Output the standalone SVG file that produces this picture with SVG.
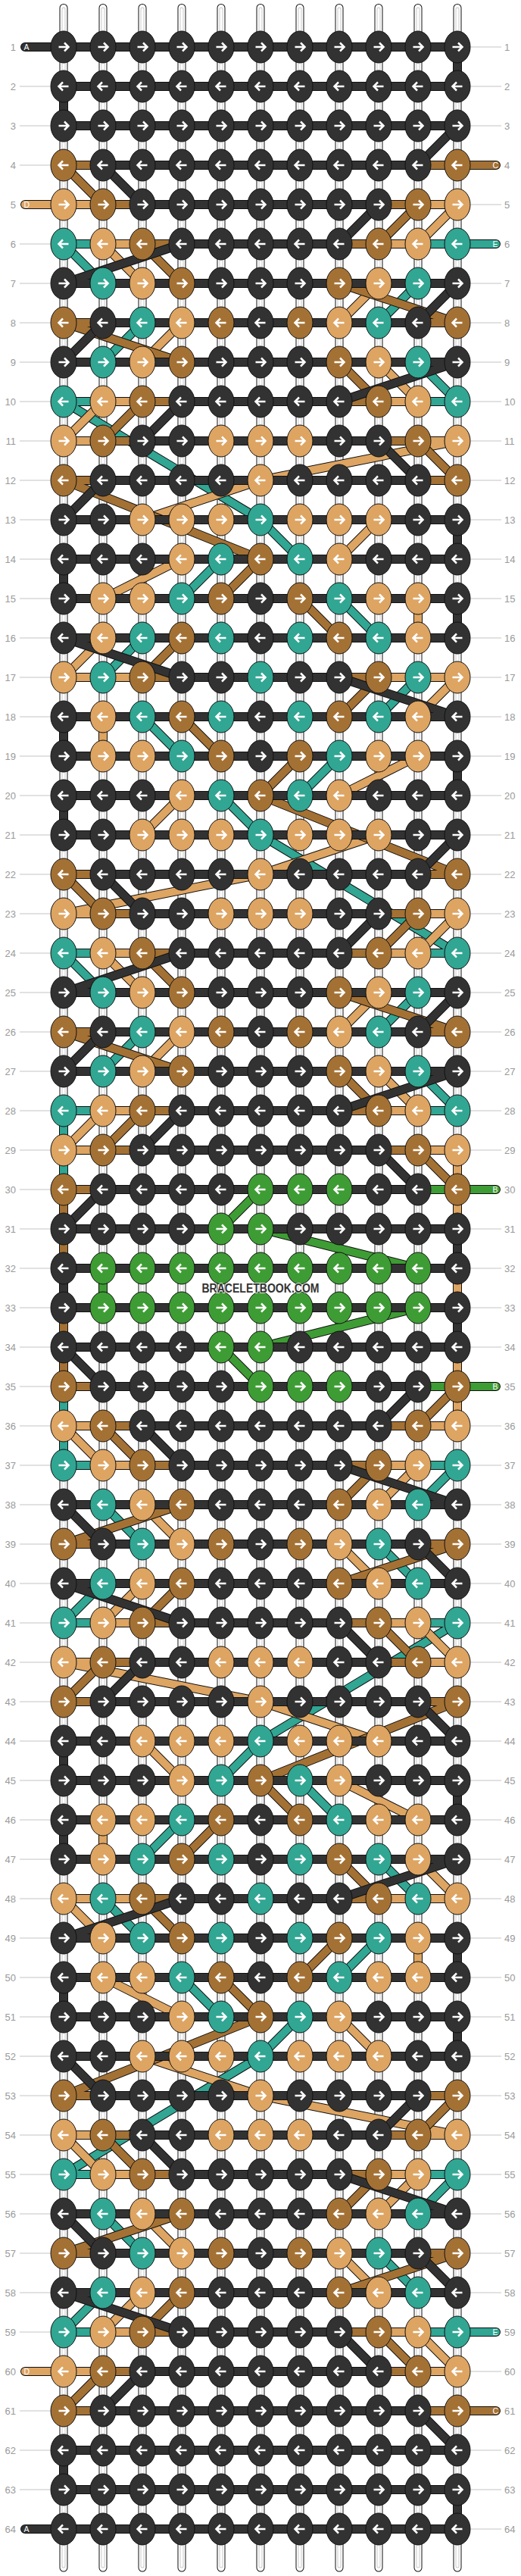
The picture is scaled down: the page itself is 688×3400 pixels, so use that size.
<svg xmlns="http://www.w3.org/2000/svg" xmlns:xlink="http://www.w3.org/1999/xlink" width="688" height="3400" viewBox="0 0 688 3400">
<style>
.k{fill:#323232}.b{fill:#a47134}.t{fill:#dda462}.q{fill:#30a693}.g{fill:#3e9c34}
.o{fill:none;stroke:#111;stroke-width:12;stroke-linecap:round;stroke-linejoin:round}
.sk,.sb,.st,.sq,.sg{fill:none;stroke-width:10;stroke-linecap:round;stroke-linejoin:round}
.sk{stroke:#323232}.sb{stroke:#a47134}.st{stroke:#dda462}.sq{stroke:#30a693}.sg{stroke:#3e9c34}
.n{font-family:"Liberation Sans",Arial,sans-serif;font-size:13px;fill:#9a9a9a}
.e{text-anchor:end}
.s{font-family:"Liberation Sans",Arial,sans-serif;font-size:10.5px;fill:#fff}
.gl{fill:none;stroke:#c4c4c4;stroke-width:1}
.w1{fill:none;stroke:#111;stroke-width:11;stroke-linecap:round}
.w2{fill:none;stroke:#fff;stroke-width:9;stroke-linecap:round}
.w3{fill:none;stroke:#c8c8c8;stroke-width:5;stroke-linecap:round}
.w4{fill:none;stroke:#fff;stroke-width:3;stroke-linecap:round}
.wm{font-family:"Liberation Sans",Arial,sans-serif;font-weight:bold;font-size:16px;fill:#333;stroke:#fff;stroke-width:1.5;paint-order:stroke;text-anchor:middle}
</style>
<defs>
<g id="R"><ellipse rx="17" ry="21" stroke="#111" stroke-width="1"/><path d="M-6.5 0H5.5M1 -5.5L6.5 0L1 5.5" fill="none" stroke="#fff" stroke-width="2.5"/></g>
<g id="L"><ellipse rx="17" ry="21" stroke="#111" stroke-width="1"/><path d="M6.5 0H-5.5M-1 -5.5L-6.5 0L-1 5.5" fill="none" stroke="#fff" stroke-width="2.5"/></g>
</defs>
<g id="warp">
<path class="w1" d="M84 10.5V3389M136 10.5V3389M188 10.5V3389M240 10.5V3389M292 10.5V3389M344 10.5V3389M396 10.5V3389M448 10.5V3389M500 10.5V3389M552 10.5V3389M604 10.5V3389"/>
<path class="w2" d="M84 10.5V3389M136 10.5V3389M188 10.5V3389M240 10.5V3389M292 10.5V3389M344 10.5V3389M396 10.5V3389M448 10.5V3389M500 10.5V3389M552 10.5V3389M604 10.5V3389"/>
<path class="w3" d="M84 12V3387M136 12V3387M188 12V3387M240 12V3387M292 12V3387M344 12V3387M396 12V3387M448 12V3387M500 12V3387M552 12V3387M604 12V3387"/>
<path class="w4" d="M84 12V3387M136 12V3387M188 12V3387M240 12V3387M292 12V3387M344 12V3387M396 12V3387M448 12V3387M500 12V3387M552 12V3387M604 12V3387"/>
</g>
<g id="labels">
<path class="gl" d="M26 114H66M26 166H66M26 218H66M26 322H66M26 374H66M26 426H66M26 478H66M26 530H66M26 582H66M26 634H66M26 686H66M26 738H66M26 790H66M26 842H66M26 894H66M26 946H66M26 998H66M26 1050H66M26 1102H66M26 1154H66M26 1206H66M26 1258H66M26 1310H66M26 1362H66M26 1414H66M26 1466H66M26 1518H66M26 1570H66M26 1622H66M26 1674H66M26 1726H66M26 1778H66M26 1830H66M26 1882H66M26 1934H66M26 1986H66M26 2038H66M26 2090H66M26 2142H66M26 2194H66M26 2246H66M26 2298H66M26 2350H66M26 2402H66M26 2454H66M26 2506H66M26 2558H66M26 2610H66M26 2662H66M26 2714H66M26 2766H66M26 2818H66M26 2870H66M26 2922H66M26 2974H66M26 3026H66M26 3078H66M26 3182H66M26 3234H66M26 3286H66"/>
<path class="gl" d="M622 62H662M622 114H662M622 166H662M622 270H662M622 374H662M622 426H662M622 478H662M622 530H662M622 582H662M622 634H662M622 686H662M622 738H662M622 790H662M622 842H662M622 894H662M622 946H662M622 998H662M622 1050H662M622 1102H662M622 1154H662M622 1206H662M622 1258H662M622 1310H662M622 1362H662M622 1414H662M622 1466H662M622 1518H662M622 1622H662M622 1674H662M622 1726H662M622 1778H662M622 1882H662M622 1934H662M622 1986H662M622 2038H662M622 2090H662M622 2142H662M622 2194H662M622 2246H662M622 2298H662M622 2350H662M622 2402H662M622 2454H662M622 2506H662M622 2558H662M622 2610H662M622 2662H662M622 2714H662M622 2766H662M622 2818H662M622 2870H662M622 2922H662M622 2974H662M622 3026H662M622 3130H662M622 3234H662M622 3286H662M622 3338H662"/>
<text class="n e" x="21" y="66.5">1</text><text class="n e" x="21" y="118.5">2</text><text class="n e" x="21" y="170.5">3</text><text class="n e" x="21" y="222.5">4</text><text class="n e" x="21" y="274.5">5</text><text class="n e" x="21" y="326.5">6</text><text class="n e" x="21" y="378.5">7</text><text class="n e" x="21" y="430.5">8</text><text class="n e" x="21" y="482.5">9</text><text class="n e" x="21" y="534.5">10</text><text class="n e" x="21" y="586.5">11</text><text class="n e" x="21" y="638.5">12</text><text class="n e" x="21" y="690.5">13</text><text class="n e" x="21" y="742.5">14</text><text class="n e" x="21" y="794.5">15</text><text class="n e" x="21" y="846.5">16</text><text class="n e" x="21" y="898.5">17</text><text class="n e" x="21" y="950.5">18</text><text class="n e" x="21" y="1002.5">19</text><text class="n e" x="21" y="1054.5">20</text><text class="n e" x="21" y="1106.5">21</text><text class="n e" x="21" y="1158.5">22</text><text class="n e" x="21" y="1210.5">23</text><text class="n e" x="21" y="1262.5">24</text><text class="n e" x="21" y="1314.5">25</text><text class="n e" x="21" y="1366.5">26</text><text class="n e" x="21" y="1418.5">27</text><text class="n e" x="21" y="1470.5">28</text><text class="n e" x="21" y="1522.5">29</text><text class="n e" x="21" y="1574.5">30</text><text class="n e" x="21" y="1626.5">31</text><text class="n e" x="21" y="1678.5">32</text><text class="n e" x="21" y="1730.5">33</text><text class="n e" x="21" y="1782.5">34</text><text class="n e" x="21" y="1834.5">35</text><text class="n e" x="21" y="1886.5">36</text><text class="n e" x="21" y="1938.5">37</text><text class="n e" x="21" y="1990.5">38</text><text class="n e" x="21" y="2042.5">39</text><text class="n e" x="21" y="2094.5">40</text><text class="n e" x="21" y="2146.5">41</text><text class="n e" x="21" y="2198.5">42</text><text class="n e" x="21" y="2250.5">43</text><text class="n e" x="21" y="2302.5">44</text><text class="n e" x="21" y="2354.5">45</text><text class="n e" x="21" y="2406.5">46</text><text class="n e" x="21" y="2458.5">47</text><text class="n e" x="21" y="2510.5">48</text><text class="n e" x="21" y="2562.5">49</text><text class="n e" x="21" y="2614.5">50</text><text class="n e" x="21" y="2666.5">51</text><text class="n e" x="21" y="2718.5">52</text><text class="n e" x="21" y="2770.5">53</text><text class="n e" x="21" y="2822.5">54</text><text class="n e" x="21" y="2874.5">55</text><text class="n e" x="21" y="2926.5">56</text><text class="n e" x="21" y="2978.5">57</text><text class="n e" x="21" y="3030.5">58</text><text class="n e" x="21" y="3082.5">59</text><text class="n e" x="21" y="3134.5">60</text><text class="n e" x="21" y="3186.5">61</text><text class="n e" x="21" y="3238.5">62</text><text class="n e" x="21" y="3290.5">63</text><text class="n e" x="21" y="3342.5">64</text>
<text class="n" x="666" y="66.5">1</text><text class="n" x="666" y="118.5">2</text><text class="n" x="666" y="170.5">3</text><text class="n" x="666" y="222.5">4</text><text class="n" x="666" y="274.5">5</text><text class="n" x="666" y="326.5">6</text><text class="n" x="666" y="378.5">7</text><text class="n" x="666" y="430.5">8</text><text class="n" x="666" y="482.5">9</text><text class="n" x="666" y="534.5">10</text><text class="n" x="666" y="586.5">11</text><text class="n" x="666" y="638.5">12</text><text class="n" x="666" y="690.5">13</text><text class="n" x="666" y="742.5">14</text><text class="n" x="666" y="794.5">15</text><text class="n" x="666" y="846.5">16</text><text class="n" x="666" y="898.5">17</text><text class="n" x="666" y="950.5">18</text><text class="n" x="666" y="1002.5">19</text><text class="n" x="666" y="1054.5">20</text><text class="n" x="666" y="1106.5">21</text><text class="n" x="666" y="1158.5">22</text><text class="n" x="666" y="1210.5">23</text><text class="n" x="666" y="1262.5">24</text><text class="n" x="666" y="1314.5">25</text><text class="n" x="666" y="1366.5">26</text><text class="n" x="666" y="1418.5">27</text><text class="n" x="666" y="1470.5">28</text><text class="n" x="666" y="1522.5">29</text><text class="n" x="666" y="1574.5">30</text><text class="n" x="666" y="1626.5">31</text><text class="n" x="666" y="1678.5">32</text><text class="n" x="666" y="1730.5">33</text><text class="n" x="666" y="1782.5">34</text><text class="n" x="666" y="1834.5">35</text><text class="n" x="666" y="1886.5">36</text><text class="n" x="666" y="1938.5">37</text><text class="n" x="666" y="1990.5">38</text><text class="n" x="666" y="2042.5">39</text><text class="n" x="666" y="2094.5">40</text><text class="n" x="666" y="2146.5">41</text><text class="n" x="666" y="2198.5">42</text><text class="n" x="666" y="2250.5">43</text><text class="n" x="666" y="2302.5">44</text><text class="n" x="666" y="2354.5">45</text><text class="n" x="666" y="2406.5">46</text><text class="n" x="666" y="2458.5">47</text><text class="n" x="666" y="2510.5">48</text><text class="n" x="666" y="2562.5">49</text><text class="n" x="666" y="2614.5">50</text><text class="n" x="666" y="2666.5">51</text><text class="n" x="666" y="2718.5">52</text><text class="n" x="666" y="2770.5">53</text><text class="n" x="666" y="2822.5">54</text><text class="n" x="666" y="2874.5">55</text><text class="n" x="666" y="2926.5">56</text><text class="n" x="666" y="2978.5">57</text><text class="n" x="666" y="3030.5">58</text><text class="n" x="666" y="3082.5">59</text><text class="n" x="666" y="3134.5">60</text><text class="n" x="666" y="3186.5">61</text><text class="n" x="666" y="3238.5">62</text><text class="n" x="666" y="3290.5">63</text><text class="n" x="666" y="3342.5">64</text>
</g>
<g id="connectors">
<path id="strE-o" class="o" d="M655 322H84L136 374H552L500 426H188L136 478H552L604 530H84L344 686L396 738H292L240 790H448L500 842H188L136 894H552L500 946H188L240 998H448L396 1050H292L344 1102L604 1258H84L136 1310H552L500 1362H188L136 1414H552L604 1466H84L84 1934H604L552 1986H136L188 2038H500L552 2090H136L84 2142H604L344 2298L292 2350H396L448 2402H240L188 2454H500L552 2506H136L188 2558H500L448 2610H240L292 2662H396L344 2714L84 2870H604L552 2922H136L188 2974H500L552 3026H136L84 3078H655"/>
<path id="strE" class="sq" d="M655 322H84L136 374H552L500 426H188L136 478H552L604 530H84L344 686L396 738H292L240 790H448L500 842H188L136 894H552L500 946H188L240 998H448L396 1050H292L344 1102L604 1258H84L136 1310H552L500 1362H188L136 1414H552L604 1466H84L84 1934H604L552 1986H136L188 2038H500L552 2090H136L84 2142H604L344 2298L292 2350H396L448 2402H240L188 2454H500L552 2506H136L188 2558H500L448 2610H240L292 2662H396L344 2714L84 2870H604L552 2922H136L188 2974H500L552 3026H136L84 3078H655"/>
<path id="strD-o" class="o" d="M33 270H604L552 322H136L188 374H500L448 426H240L188 478H500L552 530H136L84 582H604L344 634L188 686H500L448 738H240L136 790H552L552 842H136L84 894H604L552 946H136L136 998H552L448 1050H240L188 1102H500L344 1154L84 1206H604L552 1258H136L188 1310H500L448 1362H240L188 1414H500L552 1466H136L84 1518H604L604 1882H84L136 1934H552L500 1986H188L240 2038H448L500 2090H188L136 2142H552L604 2194H84L344 2246L500 2298H188L240 2350H448L552 2402H136L136 2454H552L604 2506H84L136 2558H552L552 2610H136L240 2662H448L500 2714H188L344 2766L604 2818H84L136 2870H552L500 2922H188L240 2974H448L500 3026H188L136 3078H552L604 3130H33"/>
<path id="strD" class="st" d="M33 270H604L552 322H136L188 374H500L448 426H240L188 478H500L552 530H136L84 582H604L344 634L188 686H500L448 738H240L136 790H552L552 842H136L84 894H604L552 946H136L136 998H552L448 1050H240L188 1102H500L344 1154L84 1206H604L552 1258H136L188 1310H500L448 1362H240L188 1414H500L552 1466H136L84 1518H604L604 1882H84L136 1934H552L500 1986H188L240 2038H448L500 2090H188L136 2142H552L604 2194H84L344 2246L500 2298H188L240 2350H448L552 2402H136L136 2454H552L604 2506H84L136 2558H552L552 2610H136L240 2662H448L500 2714H188L344 2766L604 2818H84L136 2870H552L500 2922H188L240 2974H448L500 3026H188L136 3078H552L604 3130H33"/>
<path id="strC-o" class="o" d="M655 218H84L136 270H552L500 322H188L240 374H448L604 426H84L240 478H448L500 530H188L136 582H552L604 634H84L344 738L292 790H396L448 842H240L188 894H500L448 946H240L292 998H396L344 1050L604 1154H84L136 1206H552L500 1258H188L240 1310H448L604 1362H84L240 1414H448L500 1466H188L136 1518H552L604 1570H84L84 1830H604L552 1882H136L188 1934H500L448 1986H240L84 2038H604L448 2090H240L188 2142H500L552 2194H136L84 2246H604L344 2350L396 2402H292L240 2454H448L500 2506H188L240 2558H448L396 2610H292L344 2662L84 2766H604L552 2818H136L188 2870H500L448 2922H240L84 2974H604L448 3026H240L188 3078H500L552 3130H136L84 3182H655"/>
<path id="strC" class="sb" d="M655 218H84L136 270H552L500 322H188L240 374H448L604 426H84L240 478H448L500 530H188L136 582H552L604 634H84L344 738L292 790H396L448 842H240L188 894H500L448 946H240L292 998H396L344 1050L604 1154H84L136 1206H552L500 1258H188L240 1310H448L604 1362H84L240 1414H448L500 1466H188L136 1518H552L604 1570H84L84 1830H604L552 1882H136L188 1934H500L448 1986H240L84 2038H604L448 2090H240L188 2142H500L552 2194H136L84 2246H604L344 2350L396 2402H292L240 2454H448L500 2506H188L240 2558H448L396 2610H292L344 2662L84 2766H604L552 2818H136L188 2870H500L448 2922H240L84 2974H604L448 3026H240L188 3078H500L552 3130H136L84 3182H655"/>
<path id="strB-o" class="o" d="M655 1570H344L292 1622H344L552 1674H136L136 1726H552L344 1778H292L344 1830H655"/>
<path id="strB" class="sg" d="M655 1570H344L292 1622H344L552 1674H136L136 1726H552L344 1778H292L344 1830H655"/>
<path id="strA-o" class="o" d="M33 62H604L604 114H84L84 166H604L552 218H136L188 270H500L448 322H240L84 374H604L552 426H136L84 478H604L448 530H240L188 582H500L552 634H136L84 686H604L604 738H84L84 790H604L604 842H84L240 894H448L604 946H84L84 998H604L604 1050H84L84 1102H604L552 1154H136L188 1206H500L448 1258H240L84 1310H604L552 1362H136L84 1414H604L448 1466H240L188 1518H500L552 1570H136L84 1622H604L604 1674H84L84 1726H604L604 1778H84L136 1830H552L500 1882H188L240 1934H448L604 1986H84L136 2038H552L604 2090H84L240 2142H448L500 2194H188L136 2246H552L604 2298H84L84 2350H604L604 2402H84L84 2454H604L448 2506H240L84 2558H604L604 2610H84L84 2662H604L604 2714H84L136 2766H552L500 2818H188L240 2870H448L604 2922H84L136 2974H552L604 3026H84L240 3078H448L500 3130H188L136 3182H552L604 3234H84L84 3286H604L604 3338H33"/>
<path id="strA" class="sk" d="M33 62H604L604 114H84L84 166H604L552 218H136L188 270H500L448 322H240L84 374H604L552 426H136L84 478H604L448 530H240L188 582H500L552 634H136L84 686H604L604 738H84L84 790H604L604 842H84L240 894H448L604 946H84L84 998H604L604 1050H84L84 1102H604L552 1154H136L188 1206H500L448 1258H240L84 1310H604L552 1362H136L84 1414H604L448 1466H240L188 1518H500L552 1570H136L84 1622H604L604 1674H84L84 1726H604L604 1778H84L136 1830H552L500 1882H188L240 1934H448L604 1986H84L136 2038H552L604 2090H84L240 2142H448L500 2194H188L136 2246H552L604 2298H84L84 2350H604L604 2402H84L84 2454H604L448 2506H240L84 2558H604L604 2610H84L84 2662H604L604 2714H84L136 2766H552L500 2818H188L240 2870H448L604 2922H84L136 2974H552L604 3026H84L240 3078H448L500 3130H188L136 3182H552L604 3234H84L84 3286H604L604 3338H33"/>
<text class="s" x="31.5" y="66">A</text><text class="s" x="31.5" y="3342">A</text>
<text class="s" x="31.5" y="274">D</text><text class="s" x="31.5" y="3134">D</text>
<text class="s" x="650.5" y="222">C</text><text class="s" x="650.5" y="3186">C</text>
<text class="s" x="650.5" y="326">E</text><text class="s" x="650.5" y="3082">E</text>
<text class="s" x="650.5" y="1574">B</text><text class="s" x="650.5" y="1834">B</text>
</g>
<g id="knots">
<g id="row1" transform="translate(0 62)"><g id="k1-1" class="k"><use href="#R" x="84"/></g><g id="k1-2" class="k"><use href="#R" x="136"/></g><g id="k1-3" class="k"><use href="#R" x="188"/></g><g id="k1-4" class="k"><use href="#R" x="240"/></g><g id="k1-5" class="k"><use href="#R" x="292"/></g><g id="k1-6" class="k"><use href="#R" x="344"/></g><g id="k1-7" class="k"><use href="#R" x="396"/></g><g id="k1-8" class="k"><use href="#R" x="448"/></g><g id="k1-9" class="k"><use href="#R" x="500"/></g><g id="k1-10" class="k"><use href="#R" x="552"/></g><g id="k1-11" class="k"><use href="#R" x="604"/></g></g>
<g id="row2" transform="translate(0 114)"><g id="k2-1" class="k"><use href="#L" x="84"/></g><g id="k2-2" class="k"><use href="#L" x="136"/></g><g id="k2-3" class="k"><use href="#L" x="188"/></g><g id="k2-4" class="k"><use href="#L" x="240"/></g><g id="k2-5" class="k"><use href="#L" x="292"/></g><g id="k2-6" class="k"><use href="#L" x="344"/></g><g id="k2-7" class="k"><use href="#L" x="396"/></g><g id="k2-8" class="k"><use href="#L" x="448"/></g><g id="k2-9" class="k"><use href="#L" x="500"/></g><g id="k2-10" class="k"><use href="#L" x="552"/></g><g id="k2-11" class="k"><use href="#L" x="604"/></g></g>
<g id="row3" transform="translate(0 166)"><g id="k3-1" class="k"><use href="#R" x="84"/></g><g id="k3-2" class="k"><use href="#R" x="136"/></g><g id="k3-3" class="k"><use href="#R" x="188"/></g><g id="k3-4" class="k"><use href="#R" x="240"/></g><g id="k3-5" class="k"><use href="#R" x="292"/></g><g id="k3-6" class="k"><use href="#R" x="344"/></g><g id="k3-7" class="k"><use href="#R" x="396"/></g><g id="k3-8" class="k"><use href="#R" x="448"/></g><g id="k3-9" class="k"><use href="#R" x="500"/></g><g id="k3-10" class="k"><use href="#R" x="552"/></g><g id="k3-11" class="k"><use href="#R" x="604"/></g></g>
<g id="row4" transform="translate(0 218)"><g id="k4-1" class="b"><use href="#L" x="84"/></g><g id="k4-2" class="k"><use href="#L" x="136"/></g><g id="k4-3" class="k"><use href="#L" x="188"/></g><g id="k4-4" class="k"><use href="#L" x="240"/></g><g id="k4-5" class="k"><use href="#L" x="292"/></g><g id="k4-6" class="k"><use href="#L" x="344"/></g><g id="k4-7" class="k"><use href="#L" x="396"/></g><g id="k4-8" class="k"><use href="#L" x="448"/></g><g id="k4-9" class="k"><use href="#L" x="500"/></g><g id="k4-10" class="k"><use href="#L" x="552"/></g><g id="k4-11" class="b"><use href="#L" x="604"/></g></g>
<g id="row5" transform="translate(0 270)"><g id="k5-1" class="t"><use href="#R" x="84"/></g><g id="k5-2" class="b"><use href="#R" x="136"/></g><g id="k5-3" class="k"><use href="#R" x="188"/></g><g id="k5-4" class="k"><use href="#R" x="240"/></g><g id="k5-5" class="k"><use href="#R" x="292"/></g><g id="k5-6" class="k"><use href="#R" x="344"/></g><g id="k5-7" class="k"><use href="#R" x="396"/></g><g id="k5-8" class="k"><use href="#R" x="448"/></g><g id="k5-9" class="k"><use href="#R" x="500"/></g><g id="k5-10" class="b"><use href="#R" x="552"/></g><g id="k5-11" class="t"><use href="#R" x="604"/></g></g>
<g id="row6" transform="translate(0 322)"><g id="k6-1" class="q"><use href="#L" x="84"/></g><g id="k6-2" class="t"><use href="#L" x="136"/></g><g id="k6-3" class="b"><use href="#L" x="188"/></g><g id="k6-4" class="k"><use href="#L" x="240"/></g><g id="k6-5" class="k"><use href="#L" x="292"/></g><g id="k6-6" class="k"><use href="#L" x="344"/></g><g id="k6-7" class="k"><use href="#L" x="396"/></g><g id="k6-8" class="k"><use href="#L" x="448"/></g><g id="k6-9" class="b"><use href="#L" x="500"/></g><g id="k6-10" class="t"><use href="#L" x="552"/></g><g id="k6-11" class="q"><use href="#L" x="604"/></g></g>
<g id="row7" transform="translate(0 374)"><g id="k7-1" class="k"><use href="#R" x="84"/></g><g id="k7-2" class="q"><use href="#R" x="136"/></g><g id="k7-3" class="t"><use href="#R" x="188"/></g><g id="k7-4" class="b"><use href="#R" x="240"/></g><g id="k7-5" class="k"><use href="#R" x="292"/></g><g id="k7-6" class="k"><use href="#R" x="344"/></g><g id="k7-7" class="k"><use href="#R" x="396"/></g><g id="k7-8" class="b"><use href="#R" x="448"/></g><g id="k7-9" class="t"><use href="#R" x="500"/></g><g id="k7-10" class="q"><use href="#R" x="552"/></g><g id="k7-11" class="k"><use href="#R" x="604"/></g></g>
<g id="row8" transform="translate(0 426)"><g id="k8-1" class="b"><use href="#L" x="84"/></g><g id="k8-2" class="k"><use href="#L" x="136"/></g><g id="k8-3" class="q"><use href="#L" x="188"/></g><g id="k8-4" class="t"><use href="#L" x="240"/></g><g id="k8-5" class="b"><use href="#L" x="292"/></g><g id="k8-6" class="k"><use href="#L" x="344"/></g><g id="k8-7" class="b"><use href="#L" x="396"/></g><g id="k8-8" class="t"><use href="#L" x="448"/></g><g id="k8-9" class="q"><use href="#L" x="500"/></g><g id="k8-10" class="k"><use href="#L" x="552"/></g><g id="k8-11" class="b"><use href="#L" x="604"/></g></g>
<g id="row9" transform="translate(0 478)"><g id="k9-1" class="k"><use href="#R" x="84"/></g><g id="k9-2" class="q"><use href="#R" x="136"/></g><g id="k9-3" class="t"><use href="#R" x="188"/></g><g id="k9-4" class="b"><use href="#R" x="240"/></g><g id="k9-5" class="k"><use href="#R" x="292"/></g><g id="k9-6" class="k"><use href="#R" x="344"/></g><g id="k9-7" class="k"><use href="#R" x="396"/></g><g id="k9-8" class="b"><use href="#R" x="448"/></g><g id="k9-9" class="t"><use href="#R" x="500"/></g><g id="k9-10" class="q"><use href="#R" x="552"/></g><g id="k9-11" class="k"><use href="#R" x="604"/></g></g>
<g id="row10" transform="translate(0 530)"><g id="k10-1" class="q"><use href="#L" x="84"/></g><g id="k10-2" class="t"><use href="#L" x="136"/></g><g id="k10-3" class="b"><use href="#L" x="188"/></g><g id="k10-4" class="k"><use href="#L" x="240"/></g><g id="k10-5" class="k"><use href="#L" x="292"/></g><g id="k10-6" class="k"><use href="#L" x="344"/></g><g id="k10-7" class="k"><use href="#L" x="396"/></g><g id="k10-8" class="k"><use href="#L" x="448"/></g><g id="k10-9" class="b"><use href="#L" x="500"/></g><g id="k10-10" class="t"><use href="#L" x="552"/></g><g id="k10-11" class="q"><use href="#L" x="604"/></g></g>
<g id="row11" transform="translate(0 582)"><g id="k11-1" class="t"><use href="#R" x="84"/></g><g id="k11-2" class="b"><use href="#R" x="136"/></g><g id="k11-3" class="k"><use href="#R" x="188"/></g><g id="k11-4" class="k"><use href="#R" x="240"/></g><g id="k11-5" class="t"><use href="#R" x="292"/></g><g id="k11-6" class="t"><use href="#R" x="344"/></g><g id="k11-7" class="t"><use href="#R" x="396"/></g><g id="k11-8" class="k"><use href="#R" x="448"/></g><g id="k11-9" class="k"><use href="#R" x="500"/></g><g id="k11-10" class="b"><use href="#R" x="552"/></g><g id="k11-11" class="t"><use href="#R" x="604"/></g></g>
<g id="row12" transform="translate(0 634)"><g id="k12-1" class="b"><use href="#L" x="84"/></g><g id="k12-2" class="k"><use href="#L" x="136"/></g><g id="k12-3" class="k"><use href="#L" x="188"/></g><g id="k12-4" class="k"><use href="#L" x="240"/></g><g id="k12-5" class="k"><use href="#L" x="292"/></g><g id="k12-6" class="t"><use href="#L" x="344"/></g><g id="k12-7" class="k"><use href="#L" x="396"/></g><g id="k12-8" class="k"><use href="#L" x="448"/></g><g id="k12-9" class="k"><use href="#L" x="500"/></g><g id="k12-10" class="k"><use href="#L" x="552"/></g><g id="k12-11" class="b"><use href="#L" x="604"/></g></g>
<g id="row13" transform="translate(0 686)"><g id="k13-1" class="k"><use href="#R" x="84"/></g><g id="k13-2" class="k"><use href="#R" x="136"/></g><g id="k13-3" class="t"><use href="#R" x="188"/></g><g id="k13-4" class="t"><use href="#R" x="240"/></g><g id="k13-5" class="t"><use href="#R" x="292"/></g><g id="k13-6" class="q"><use href="#R" x="344"/></g><g id="k13-7" class="t"><use href="#R" x="396"/></g><g id="k13-8" class="t"><use href="#R" x="448"/></g><g id="k13-9" class="t"><use href="#R" x="500"/></g><g id="k13-10" class="k"><use href="#R" x="552"/></g><g id="k13-11" class="k"><use href="#R" x="604"/></g></g>
<g id="row14" transform="translate(0 738)"><g id="k14-1" class="k"><use href="#L" x="84"/></g><g id="k14-2" class="k"><use href="#L" x="136"/></g><g id="k14-3" class="k"><use href="#L" x="188"/></g><g id="k14-4" class="t"><use href="#L" x="240"/></g><g id="k14-5" class="q"><use href="#L" x="292"/></g><g id="k14-6" class="b"><use href="#L" x="344"/></g><g id="k14-7" class="q"><use href="#L" x="396"/></g><g id="k14-8" class="t"><use href="#L" x="448"/></g><g id="k14-9" class="k"><use href="#L" x="500"/></g><g id="k14-10" class="k"><use href="#L" x="552"/></g><g id="k14-11" class="k"><use href="#L" x="604"/></g></g>
<g id="row15" transform="translate(0 790)"><g id="k15-1" class="k"><use href="#R" x="84"/></g><g id="k15-2" class="t"><use href="#R" x="136"/></g><g id="k15-3" class="t"><use href="#R" x="188"/></g><g id="k15-4" class="q"><use href="#R" x="240"/></g><g id="k15-5" class="b"><use href="#R" x="292"/></g><g id="k15-6" class="k"><use href="#R" x="344"/></g><g id="k15-7" class="b"><use href="#R" x="396"/></g><g id="k15-8" class="q"><use href="#R" x="448"/></g><g id="k15-9" class="t"><use href="#R" x="500"/></g><g id="k15-10" class="t"><use href="#R" x="552"/></g><g id="k15-11" class="k"><use href="#R" x="604"/></g></g>
<g id="row16" transform="translate(0 842)"><g id="k16-1" class="k"><use href="#L" x="84"/></g><g id="k16-2" class="t"><use href="#L" x="136"/></g><g id="k16-3" class="q"><use href="#L" x="188"/></g><g id="k16-4" class="b"><use href="#L" x="240"/></g><g id="k16-5" class="q"><use href="#L" x="292"/></g><g id="k16-6" class="k"><use href="#L" x="344"/></g><g id="k16-7" class="q"><use href="#L" x="396"/></g><g id="k16-8" class="b"><use href="#L" x="448"/></g><g id="k16-9" class="q"><use href="#L" x="500"/></g><g id="k16-10" class="t"><use href="#L" x="552"/></g><g id="k16-11" class="k"><use href="#L" x="604"/></g></g>
<g id="row17" transform="translate(0 894)"><g id="k17-1" class="t"><use href="#R" x="84"/></g><g id="k17-2" class="q"><use href="#R" x="136"/></g><g id="k17-3" class="b"><use href="#R" x="188"/></g><g id="k17-4" class="k"><use href="#R" x="240"/></g><g id="k17-5" class="k"><use href="#R" x="292"/></g><g id="k17-6" class="q"><use href="#R" x="344"/></g><g id="k17-7" class="k"><use href="#R" x="396"/></g><g id="k17-8" class="k"><use href="#R" x="448"/></g><g id="k17-9" class="b"><use href="#R" x="500"/></g><g id="k17-10" class="q"><use href="#R" x="552"/></g><g id="k17-11" class="t"><use href="#R" x="604"/></g></g>
<g id="row18" transform="translate(0 946)"><g id="k18-1" class="k"><use href="#L" x="84"/></g><g id="k18-2" class="t"><use href="#L" x="136"/></g><g id="k18-3" class="q"><use href="#L" x="188"/></g><g id="k18-4" class="b"><use href="#L" x="240"/></g><g id="k18-5" class="q"><use href="#L" x="292"/></g><g id="k18-6" class="k"><use href="#L" x="344"/></g><g id="k18-7" class="q"><use href="#L" x="396"/></g><g id="k18-8" class="b"><use href="#L" x="448"/></g><g id="k18-9" class="q"><use href="#L" x="500"/></g><g id="k18-10" class="t"><use href="#L" x="552"/></g><g id="k18-11" class="k"><use href="#L" x="604"/></g></g>
<g id="row19" transform="translate(0 998)"><g id="k19-1" class="k"><use href="#R" x="84"/></g><g id="k19-2" class="t"><use href="#R" x="136"/></g><g id="k19-3" class="t"><use href="#R" x="188"/></g><g id="k19-4" class="q"><use href="#R" x="240"/></g><g id="k19-5" class="b"><use href="#R" x="292"/></g><g id="k19-6" class="k"><use href="#R" x="344"/></g><g id="k19-7" class="b"><use href="#R" x="396"/></g><g id="k19-8" class="q"><use href="#R" x="448"/></g><g id="k19-9" class="t"><use href="#R" x="500"/></g><g id="k19-10" class="t"><use href="#R" x="552"/></g><g id="k19-11" class="k"><use href="#R" x="604"/></g></g>
<g id="row20" transform="translate(0 1050)"><g id="k20-1" class="k"><use href="#L" x="84"/></g><g id="k20-2" class="k"><use href="#L" x="136"/></g><g id="k20-3" class="k"><use href="#L" x="188"/></g><g id="k20-4" class="t"><use href="#L" x="240"/></g><g id="k20-5" class="q"><use href="#L" x="292"/></g><g id="k20-6" class="b"><use href="#L" x="344"/></g><g id="k20-7" class="q"><use href="#L" x="396"/></g><g id="k20-8" class="t"><use href="#L" x="448"/></g><g id="k20-9" class="k"><use href="#L" x="500"/></g><g id="k20-10" class="k"><use href="#L" x="552"/></g><g id="k20-11" class="k"><use href="#L" x="604"/></g></g>
<g id="row21" transform="translate(0 1102)"><g id="k21-1" class="k"><use href="#R" x="84"/></g><g id="k21-2" class="k"><use href="#R" x="136"/></g><g id="k21-3" class="t"><use href="#R" x="188"/></g><g id="k21-4" class="t"><use href="#R" x="240"/></g><g id="k21-5" class="t"><use href="#R" x="292"/></g><g id="k21-6" class="q"><use href="#R" x="344"/></g><g id="k21-7" class="t"><use href="#R" x="396"/></g><g id="k21-8" class="t"><use href="#R" x="448"/></g><g id="k21-9" class="t"><use href="#R" x="500"/></g><g id="k21-10" class="k"><use href="#R" x="552"/></g><g id="k21-11" class="k"><use href="#R" x="604"/></g></g>
<g id="row22" transform="translate(0 1154)"><g id="k22-1" class="b"><use href="#L" x="84"/></g><g id="k22-2" class="k"><use href="#L" x="136"/></g><g id="k22-3" class="k"><use href="#L" x="188"/></g><g id="k22-4" class="k"><use href="#L" x="240"/></g><g id="k22-5" class="k"><use href="#L" x="292"/></g><g id="k22-6" class="t"><use href="#L" x="344"/></g><g id="k22-7" class="k"><use href="#L" x="396"/></g><g id="k22-8" class="k"><use href="#L" x="448"/></g><g id="k22-9" class="k"><use href="#L" x="500"/></g><g id="k22-10" class="k"><use href="#L" x="552"/></g><g id="k22-11" class="b"><use href="#L" x="604"/></g></g>
<g id="row23" transform="translate(0 1206)"><g id="k23-1" class="t"><use href="#R" x="84"/></g><g id="k23-2" class="b"><use href="#R" x="136"/></g><g id="k23-3" class="k"><use href="#R" x="188"/></g><g id="k23-4" class="k"><use href="#R" x="240"/></g><g id="k23-5" class="t"><use href="#R" x="292"/></g><g id="k23-6" class="t"><use href="#R" x="344"/></g><g id="k23-7" class="t"><use href="#R" x="396"/></g><g id="k23-8" class="k"><use href="#R" x="448"/></g><g id="k23-9" class="k"><use href="#R" x="500"/></g><g id="k23-10" class="b"><use href="#R" x="552"/></g><g id="k23-11" class="t"><use href="#R" x="604"/></g></g>
<g id="row24" transform="translate(0 1258)"><g id="k24-1" class="q"><use href="#L" x="84"/></g><g id="k24-2" class="t"><use href="#L" x="136"/></g><g id="k24-3" class="b"><use href="#L" x="188"/></g><g id="k24-4" class="k"><use href="#L" x="240"/></g><g id="k24-5" class="k"><use href="#L" x="292"/></g><g id="k24-6" class="k"><use href="#L" x="344"/></g><g id="k24-7" class="k"><use href="#L" x="396"/></g><g id="k24-8" class="k"><use href="#L" x="448"/></g><g id="k24-9" class="b"><use href="#L" x="500"/></g><g id="k24-10" class="t"><use href="#L" x="552"/></g><g id="k24-11" class="q"><use href="#L" x="604"/></g></g>
<g id="row25" transform="translate(0 1310)"><g id="k25-1" class="k"><use href="#R" x="84"/></g><g id="k25-2" class="q"><use href="#R" x="136"/></g><g id="k25-3" class="t"><use href="#R" x="188"/></g><g id="k25-4" class="b"><use href="#R" x="240"/></g><g id="k25-5" class="k"><use href="#R" x="292"/></g><g id="k25-6" class="k"><use href="#R" x="344"/></g><g id="k25-7" class="k"><use href="#R" x="396"/></g><g id="k25-8" class="b"><use href="#R" x="448"/></g><g id="k25-9" class="t"><use href="#R" x="500"/></g><g id="k25-10" class="q"><use href="#R" x="552"/></g><g id="k25-11" class="k"><use href="#R" x="604"/></g></g>
<g id="row26" transform="translate(0 1362)"><g id="k26-1" class="b"><use href="#L" x="84"/></g><g id="k26-2" class="k"><use href="#L" x="136"/></g><g id="k26-3" class="q"><use href="#L" x="188"/></g><g id="k26-4" class="t"><use href="#L" x="240"/></g><g id="k26-5" class="b"><use href="#L" x="292"/></g><g id="k26-6" class="k"><use href="#L" x="344"/></g><g id="k26-7" class="b"><use href="#L" x="396"/></g><g id="k26-8" class="t"><use href="#L" x="448"/></g><g id="k26-9" class="q"><use href="#L" x="500"/></g><g id="k26-10" class="k"><use href="#L" x="552"/></g><g id="k26-11" class="b"><use href="#L" x="604"/></g></g>
<g id="row27" transform="translate(0 1414)"><g id="k27-1" class="k"><use href="#R" x="84"/></g><g id="k27-2" class="q"><use href="#R" x="136"/></g><g id="k27-3" class="t"><use href="#R" x="188"/></g><g id="k27-4" class="b"><use href="#R" x="240"/></g><g id="k27-5" class="k"><use href="#R" x="292"/></g><g id="k27-6" class="k"><use href="#R" x="344"/></g><g id="k27-7" class="k"><use href="#R" x="396"/></g><g id="k27-8" class="b"><use href="#R" x="448"/></g><g id="k27-9" class="t"><use href="#R" x="500"/></g><g id="k27-10" class="q"><use href="#R" x="552"/></g><g id="k27-11" class="k"><use href="#R" x="604"/></g></g>
<g id="row28" transform="translate(0 1466)"><g id="k28-1" class="q"><use href="#L" x="84"/></g><g id="k28-2" class="t"><use href="#L" x="136"/></g><g id="k28-3" class="b"><use href="#L" x="188"/></g><g id="k28-4" class="k"><use href="#L" x="240"/></g><g id="k28-5" class="k"><use href="#L" x="292"/></g><g id="k28-6" class="k"><use href="#L" x="344"/></g><g id="k28-7" class="k"><use href="#L" x="396"/></g><g id="k28-8" class="k"><use href="#L" x="448"/></g><g id="k28-9" class="b"><use href="#L" x="500"/></g><g id="k28-10" class="t"><use href="#L" x="552"/></g><g id="k28-11" class="q"><use href="#L" x="604"/></g></g>
<g id="row29" transform="translate(0 1518)"><g id="k29-1" class="t"><use href="#R" x="84"/></g><g id="k29-2" class="b"><use href="#R" x="136"/></g><g id="k29-3" class="k"><use href="#R" x="188"/></g><g id="k29-4" class="k"><use href="#R" x="240"/></g><g id="k29-5" class="k"><use href="#R" x="292"/></g><g id="k29-6" class="k"><use href="#R" x="344"/></g><g id="k29-7" class="k"><use href="#R" x="396"/></g><g id="k29-8" class="k"><use href="#R" x="448"/></g><g id="k29-9" class="k"><use href="#R" x="500"/></g><g id="k29-10" class="b"><use href="#R" x="552"/></g><g id="k29-11" class="t"><use href="#R" x="604"/></g></g>
<g id="row30" transform="translate(0 1570)"><g id="k30-1" class="b"><use href="#L" x="84"/></g><g id="k30-2" class="k"><use href="#L" x="136"/></g><g id="k30-3" class="k"><use href="#L" x="188"/></g><g id="k30-4" class="k"><use href="#L" x="240"/></g><g id="k30-5" class="k"><use href="#L" x="292"/></g><g id="k30-6" class="g"><use href="#L" x="344"/></g><g id="k30-7" class="g"><use href="#L" x="396"/></g><g id="k30-8" class="g"><use href="#L" x="448"/></g><g id="k30-9" class="k"><use href="#L" x="500"/></g><g id="k30-10" class="k"><use href="#L" x="552"/></g><g id="k30-11" class="b"><use href="#L" x="604"/></g></g>
<g id="row31" transform="translate(0 1622)"><g id="k31-1" class="k"><use href="#R" x="84"/></g><g id="k31-2" class="k"><use href="#R" x="136"/></g><g id="k31-3" class="k"><use href="#R" x="188"/></g><g id="k31-4" class="k"><use href="#R" x="240"/></g><g id="k31-5" class="g"><use href="#R" x="292"/></g><g id="k31-6" class="g"><use href="#R" x="344"/></g><g id="k31-7" class="k"><use href="#R" x="396"/></g><g id="k31-8" class="k"><use href="#R" x="448"/></g><g id="k31-9" class="k"><use href="#R" x="500"/></g><g id="k31-10" class="k"><use href="#R" x="552"/></g><g id="k31-11" class="k"><use href="#R" x="604"/></g></g>
<g id="row32" transform="translate(0 1674)"><g id="k32-1" class="k"><use href="#L" x="84"/></g><g id="k32-2" class="g"><use href="#L" x="136"/></g><g id="k32-3" class="g"><use href="#L" x="188"/></g><g id="k32-4" class="g"><use href="#L" x="240"/></g><g id="k32-5" class="g"><use href="#L" x="292"/></g><g id="k32-6" class="g"><use href="#L" x="344"/></g><g id="k32-7" class="g"><use href="#L" x="396"/></g><g id="k32-8" class="g"><use href="#L" x="448"/></g><g id="k32-9" class="g"><use href="#L" x="500"/></g><g id="k32-10" class="g"><use href="#L" x="552"/></g><g id="k32-11" class="k"><use href="#L" x="604"/></g></g>
<g id="row33" transform="translate(0 1726)"><g id="k33-1" class="k"><use href="#R" x="84"/></g><g id="k33-2" class="g"><use href="#R" x="136"/></g><g id="k33-3" class="g"><use href="#R" x="188"/></g><g id="k33-4" class="g"><use href="#R" x="240"/></g><g id="k33-5" class="g"><use href="#R" x="292"/></g><g id="k33-6" class="g"><use href="#R" x="344"/></g><g id="k33-7" class="g"><use href="#R" x="396"/></g><g id="k33-8" class="g"><use href="#R" x="448"/></g><g id="k33-9" class="g"><use href="#R" x="500"/></g><g id="k33-10" class="g"><use href="#R" x="552"/></g><g id="k33-11" class="k"><use href="#R" x="604"/></g></g>
<g id="row34" transform="translate(0 1778)"><g id="k34-1" class="k"><use href="#L" x="84"/></g><g id="k34-2" class="k"><use href="#L" x="136"/></g><g id="k34-3" class="k"><use href="#L" x="188"/></g><g id="k34-4" class="k"><use href="#L" x="240"/></g><g id="k34-5" class="g"><use href="#L" x="292"/></g><g id="k34-6" class="g"><use href="#L" x="344"/></g><g id="k34-7" class="k"><use href="#L" x="396"/></g><g id="k34-8" class="k"><use href="#L" x="448"/></g><g id="k34-9" class="k"><use href="#L" x="500"/></g><g id="k34-10" class="k"><use href="#L" x="552"/></g><g id="k34-11" class="k"><use href="#L" x="604"/></g></g>
<g id="row35" transform="translate(0 1830)"><g id="k35-1" class="b"><use href="#R" x="84"/></g><g id="k35-2" class="k"><use href="#R" x="136"/></g><g id="k35-3" class="k"><use href="#R" x="188"/></g><g id="k35-4" class="k"><use href="#R" x="240"/></g><g id="k35-5" class="k"><use href="#R" x="292"/></g><g id="k35-6" class="g"><use href="#R" x="344"/></g><g id="k35-7" class="g"><use href="#R" x="396"/></g><g id="k35-8" class="g"><use href="#R" x="448"/></g><g id="k35-9" class="k"><use href="#R" x="500"/></g><g id="k35-10" class="k"><use href="#R" x="552"/></g><g id="k35-11" class="b"><use href="#R" x="604"/></g></g>
<g id="row36" transform="translate(0 1882)"><g id="k36-1" class="t"><use href="#L" x="84"/></g><g id="k36-2" class="b"><use href="#L" x="136"/></g><g id="k36-3" class="k"><use href="#L" x="188"/></g><g id="k36-4" class="k"><use href="#L" x="240"/></g><g id="k36-5" class="k"><use href="#L" x="292"/></g><g id="k36-6" class="k"><use href="#L" x="344"/></g><g id="k36-7" class="k"><use href="#L" x="396"/></g><g id="k36-8" class="k"><use href="#L" x="448"/></g><g id="k36-9" class="k"><use href="#L" x="500"/></g><g id="k36-10" class="b"><use href="#L" x="552"/></g><g id="k36-11" class="t"><use href="#L" x="604"/></g></g>
<g id="row37" transform="translate(0 1934)"><g id="k37-1" class="q"><use href="#R" x="84"/></g><g id="k37-2" class="t"><use href="#R" x="136"/></g><g id="k37-3" class="b"><use href="#R" x="188"/></g><g id="k37-4" class="k"><use href="#R" x="240"/></g><g id="k37-5" class="k"><use href="#R" x="292"/></g><g id="k37-6" class="k"><use href="#R" x="344"/></g><g id="k37-7" class="k"><use href="#R" x="396"/></g><g id="k37-8" class="k"><use href="#R" x="448"/></g><g id="k37-9" class="b"><use href="#R" x="500"/></g><g id="k37-10" class="t"><use href="#R" x="552"/></g><g id="k37-11" class="q"><use href="#R" x="604"/></g></g>
<g id="row38" transform="translate(0 1986)"><g id="k38-1" class="k"><use href="#L" x="84"/></g><g id="k38-2" class="q"><use href="#L" x="136"/></g><g id="k38-3" class="t"><use href="#L" x="188"/></g><g id="k38-4" class="b"><use href="#L" x="240"/></g><g id="k38-5" class="k"><use href="#L" x="292"/></g><g id="k38-6" class="k"><use href="#L" x="344"/></g><g id="k38-7" class="k"><use href="#L" x="396"/></g><g id="k38-8" class="b"><use href="#L" x="448"/></g><g id="k38-9" class="t"><use href="#L" x="500"/></g><g id="k38-10" class="q"><use href="#L" x="552"/></g><g id="k38-11" class="k"><use href="#L" x="604"/></g></g>
<g id="row39" transform="translate(0 2038)"><g id="k39-1" class="b"><use href="#R" x="84"/></g><g id="k39-2" class="k"><use href="#R" x="136"/></g><g id="k39-3" class="q"><use href="#R" x="188"/></g><g id="k39-4" class="t"><use href="#R" x="240"/></g><g id="k39-5" class="b"><use href="#R" x="292"/></g><g id="k39-6" class="k"><use href="#R" x="344"/></g><g id="k39-7" class="b"><use href="#R" x="396"/></g><g id="k39-8" class="t"><use href="#R" x="448"/></g><g id="k39-9" class="q"><use href="#R" x="500"/></g><g id="k39-10" class="k"><use href="#R" x="552"/></g><g id="k39-11" class="b"><use href="#R" x="604"/></g></g>
<g id="row40" transform="translate(0 2090)"><g id="k40-1" class="k"><use href="#L" x="84"/></g><g id="k40-2" class="q"><use href="#L" x="136"/></g><g id="k40-3" class="t"><use href="#L" x="188"/></g><g id="k40-4" class="b"><use href="#L" x="240"/></g><g id="k40-5" class="k"><use href="#L" x="292"/></g><g id="k40-6" class="k"><use href="#L" x="344"/></g><g id="k40-7" class="k"><use href="#L" x="396"/></g><g id="k40-8" class="b"><use href="#L" x="448"/></g><g id="k40-9" class="t"><use href="#L" x="500"/></g><g id="k40-10" class="q"><use href="#L" x="552"/></g><g id="k40-11" class="k"><use href="#L" x="604"/></g></g>
<g id="row41" transform="translate(0 2142)"><g id="k41-1" class="q"><use href="#R" x="84"/></g><g id="k41-2" class="t"><use href="#R" x="136"/></g><g id="k41-3" class="b"><use href="#R" x="188"/></g><g id="k41-4" class="k"><use href="#R" x="240"/></g><g id="k41-5" class="k"><use href="#R" x="292"/></g><g id="k41-6" class="k"><use href="#R" x="344"/></g><g id="k41-7" class="k"><use href="#R" x="396"/></g><g id="k41-8" class="k"><use href="#R" x="448"/></g><g id="k41-9" class="b"><use href="#R" x="500"/></g><g id="k41-10" class="t"><use href="#R" x="552"/></g><g id="k41-11" class="q"><use href="#R" x="604"/></g></g>
<g id="row42" transform="translate(0 2194)"><g id="k42-1" class="t"><use href="#L" x="84"/></g><g id="k42-2" class="b"><use href="#L" x="136"/></g><g id="k42-3" class="k"><use href="#L" x="188"/></g><g id="k42-4" class="k"><use href="#L" x="240"/></g><g id="k42-5" class="t"><use href="#L" x="292"/></g><g id="k42-6" class="t"><use href="#L" x="344"/></g><g id="k42-7" class="t"><use href="#L" x="396"/></g><g id="k42-8" class="k"><use href="#L" x="448"/></g><g id="k42-9" class="k"><use href="#L" x="500"/></g><g id="k42-10" class="b"><use href="#L" x="552"/></g><g id="k42-11" class="t"><use href="#L" x="604"/></g></g>
<g id="row43" transform="translate(0 2246)"><g id="k43-1" class="b"><use href="#R" x="84"/></g><g id="k43-2" class="k"><use href="#R" x="136"/></g><g id="k43-3" class="k"><use href="#R" x="188"/></g><g id="k43-4" class="k"><use href="#R" x="240"/></g><g id="k43-5" class="k"><use href="#R" x="292"/></g><g id="k43-6" class="t"><use href="#R" x="344"/></g><g id="k43-7" class="k"><use href="#R" x="396"/></g><g id="k43-8" class="k"><use href="#R" x="448"/></g><g id="k43-9" class="k"><use href="#R" x="500"/></g><g id="k43-10" class="k"><use href="#R" x="552"/></g><g id="k43-11" class="b"><use href="#R" x="604"/></g></g>
<g id="row44" transform="translate(0 2298)"><g id="k44-1" class="k"><use href="#L" x="84"/></g><g id="k44-2" class="k"><use href="#L" x="136"/></g><g id="k44-3" class="t"><use href="#L" x="188"/></g><g id="k44-4" class="t"><use href="#L" x="240"/></g><g id="k44-5" class="t"><use href="#L" x="292"/></g><g id="k44-6" class="q"><use href="#L" x="344"/></g><g id="k44-7" class="t"><use href="#L" x="396"/></g><g id="k44-8" class="t"><use href="#L" x="448"/></g><g id="k44-9" class="t"><use href="#L" x="500"/></g><g id="k44-10" class="k"><use href="#L" x="552"/></g><g id="k44-11" class="k"><use href="#L" x="604"/></g></g>
<g id="row45" transform="translate(0 2350)"><g id="k45-1" class="k"><use href="#R" x="84"/></g><g id="k45-2" class="k"><use href="#R" x="136"/></g><g id="k45-3" class="k"><use href="#R" x="188"/></g><g id="k45-4" class="t"><use href="#R" x="240"/></g><g id="k45-5" class="q"><use href="#R" x="292"/></g><g id="k45-6" class="b"><use href="#R" x="344"/></g><g id="k45-7" class="q"><use href="#R" x="396"/></g><g id="k45-8" class="t"><use href="#R" x="448"/></g><g id="k45-9" class="k"><use href="#R" x="500"/></g><g id="k45-10" class="k"><use href="#R" x="552"/></g><g id="k45-11" class="k"><use href="#R" x="604"/></g></g>
<g id="row46" transform="translate(0 2402)"><g id="k46-1" class="k"><use href="#L" x="84"/></g><g id="k46-2" class="t"><use href="#L" x="136"/></g><g id="k46-3" class="t"><use href="#L" x="188"/></g><g id="k46-4" class="q"><use href="#L" x="240"/></g><g id="k46-5" class="b"><use href="#L" x="292"/></g><g id="k46-6" class="k"><use href="#L" x="344"/></g><g id="k46-7" class="b"><use href="#L" x="396"/></g><g id="k46-8" class="q"><use href="#L" x="448"/></g><g id="k46-9" class="t"><use href="#L" x="500"/></g><g id="k46-10" class="t"><use href="#L" x="552"/></g><g id="k46-11" class="k"><use href="#L" x="604"/></g></g>
<g id="row47" transform="translate(0 2454)"><g id="k47-1" class="k"><use href="#R" x="84"/></g><g id="k47-2" class="t"><use href="#R" x="136"/></g><g id="k47-3" class="q"><use href="#R" x="188"/></g><g id="k47-4" class="b"><use href="#R" x="240"/></g><g id="k47-5" class="q"><use href="#R" x="292"/></g><g id="k47-6" class="k"><use href="#R" x="344"/></g><g id="k47-7" class="q"><use href="#R" x="396"/></g><g id="k47-8" class="b"><use href="#R" x="448"/></g><g id="k47-9" class="q"><use href="#R" x="500"/></g><g id="k47-10" class="t"><use href="#R" x="552"/></g><g id="k47-11" class="k"><use href="#R" x="604"/></g></g>
<g id="row48" transform="translate(0 2506)"><g id="k48-1" class="t"><use href="#L" x="84"/></g><g id="k48-2" class="q"><use href="#L" x="136"/></g><g id="k48-3" class="b"><use href="#L" x="188"/></g><g id="k48-4" class="k"><use href="#L" x="240"/></g><g id="k48-5" class="k"><use href="#L" x="292"/></g><g id="k48-6" class="q"><use href="#L" x="344"/></g><g id="k48-7" class="k"><use href="#L" x="396"/></g><g id="k48-8" class="k"><use href="#L" x="448"/></g><g id="k48-9" class="b"><use href="#L" x="500"/></g><g id="k48-10" class="q"><use href="#L" x="552"/></g><g id="k48-11" class="t"><use href="#L" x="604"/></g></g>
<g id="row49" transform="translate(0 2558)"><g id="k49-1" class="k"><use href="#R" x="84"/></g><g id="k49-2" class="t"><use href="#R" x="136"/></g><g id="k49-3" class="q"><use href="#R" x="188"/></g><g id="k49-4" class="b"><use href="#R" x="240"/></g><g id="k49-5" class="q"><use href="#R" x="292"/></g><g id="k49-6" class="k"><use href="#R" x="344"/></g><g id="k49-7" class="q"><use href="#R" x="396"/></g><g id="k49-8" class="b"><use href="#R" x="448"/></g><g id="k49-9" class="q"><use href="#R" x="500"/></g><g id="k49-10" class="t"><use href="#R" x="552"/></g><g id="k49-11" class="k"><use href="#R" x="604"/></g></g>
<g id="row50" transform="translate(0 2610)"><g id="k50-1" class="k"><use href="#L" x="84"/></g><g id="k50-2" class="t"><use href="#L" x="136"/></g><g id="k50-3" class="t"><use href="#L" x="188"/></g><g id="k50-4" class="q"><use href="#L" x="240"/></g><g id="k50-5" class="b"><use href="#L" x="292"/></g><g id="k50-6" class="k"><use href="#L" x="344"/></g><g id="k50-7" class="b"><use href="#L" x="396"/></g><g id="k50-8" class="q"><use href="#L" x="448"/></g><g id="k50-9" class="t"><use href="#L" x="500"/></g><g id="k50-10" class="t"><use href="#L" x="552"/></g><g id="k50-11" class="k"><use href="#L" x="604"/></g></g>
<g id="row51" transform="translate(0 2662)"><g id="k51-1" class="k"><use href="#R" x="84"/></g><g id="k51-2" class="k"><use href="#R" x="136"/></g><g id="k51-3" class="k"><use href="#R" x="188"/></g><g id="k51-4" class="t"><use href="#R" x="240"/></g><g id="k51-5" class="q"><use href="#R" x="292"/></g><g id="k51-6" class="b"><use href="#R" x="344"/></g><g id="k51-7" class="q"><use href="#R" x="396"/></g><g id="k51-8" class="t"><use href="#R" x="448"/></g><g id="k51-9" class="k"><use href="#R" x="500"/></g><g id="k51-10" class="k"><use href="#R" x="552"/></g><g id="k51-11" class="k"><use href="#R" x="604"/></g></g>
<g id="row52" transform="translate(0 2714)"><g id="k52-1" class="k"><use href="#L" x="84"/></g><g id="k52-2" class="k"><use href="#L" x="136"/></g><g id="k52-3" class="t"><use href="#L" x="188"/></g><g id="k52-4" class="t"><use href="#L" x="240"/></g><g id="k52-5" class="t"><use href="#L" x="292"/></g><g id="k52-6" class="q"><use href="#L" x="344"/></g><g id="k52-7" class="t"><use href="#L" x="396"/></g><g id="k52-8" class="t"><use href="#L" x="448"/></g><g id="k52-9" class="t"><use href="#L" x="500"/></g><g id="k52-10" class="k"><use href="#L" x="552"/></g><g id="k52-11" class="k"><use href="#L" x="604"/></g></g>
<g id="row53" transform="translate(0 2766)"><g id="k53-1" class="b"><use href="#R" x="84"/></g><g id="k53-2" class="k"><use href="#R" x="136"/></g><g id="k53-3" class="k"><use href="#R" x="188"/></g><g id="k53-4" class="k"><use href="#R" x="240"/></g><g id="k53-5" class="k"><use href="#R" x="292"/></g><g id="k53-6" class="t"><use href="#R" x="344"/></g><g id="k53-7" class="k"><use href="#R" x="396"/></g><g id="k53-8" class="k"><use href="#R" x="448"/></g><g id="k53-9" class="k"><use href="#R" x="500"/></g><g id="k53-10" class="k"><use href="#R" x="552"/></g><g id="k53-11" class="b"><use href="#R" x="604"/></g></g>
<g id="row54" transform="translate(0 2818)"><g id="k54-1" class="t"><use href="#L" x="84"/></g><g id="k54-2" class="b"><use href="#L" x="136"/></g><g id="k54-3" class="k"><use href="#L" x="188"/></g><g id="k54-4" class="k"><use href="#L" x="240"/></g><g id="k54-5" class="t"><use href="#L" x="292"/></g><g id="k54-6" class="t"><use href="#L" x="344"/></g><g id="k54-7" class="t"><use href="#L" x="396"/></g><g id="k54-8" class="k"><use href="#L" x="448"/></g><g id="k54-9" class="k"><use href="#L" x="500"/></g><g id="k54-10" class="b"><use href="#L" x="552"/></g><g id="k54-11" class="t"><use href="#L" x="604"/></g></g>
<g id="row55" transform="translate(0 2870)"><g id="k55-1" class="q"><use href="#R" x="84"/></g><g id="k55-2" class="t"><use href="#R" x="136"/></g><g id="k55-3" class="b"><use href="#R" x="188"/></g><g id="k55-4" class="k"><use href="#R" x="240"/></g><g id="k55-5" class="k"><use href="#R" x="292"/></g><g id="k55-6" class="k"><use href="#R" x="344"/></g><g id="k55-7" class="k"><use href="#R" x="396"/></g><g id="k55-8" class="k"><use href="#R" x="448"/></g><g id="k55-9" class="b"><use href="#R" x="500"/></g><g id="k55-10" class="t"><use href="#R" x="552"/></g><g id="k55-11" class="q"><use href="#R" x="604"/></g></g>
<g id="row56" transform="translate(0 2922)"><g id="k56-1" class="k"><use href="#L" x="84"/></g><g id="k56-2" class="q"><use href="#L" x="136"/></g><g id="k56-3" class="t"><use href="#L" x="188"/></g><g id="k56-4" class="b"><use href="#L" x="240"/></g><g id="k56-5" class="k"><use href="#L" x="292"/></g><g id="k56-6" class="k"><use href="#L" x="344"/></g><g id="k56-7" class="k"><use href="#L" x="396"/></g><g id="k56-8" class="b"><use href="#L" x="448"/></g><g id="k56-9" class="t"><use href="#L" x="500"/></g><g id="k56-10" class="q"><use href="#L" x="552"/></g><g id="k56-11" class="k"><use href="#L" x="604"/></g></g>
<g id="row57" transform="translate(0 2974)"><g id="k57-1" class="b"><use href="#R" x="84"/></g><g id="k57-2" class="k"><use href="#R" x="136"/></g><g id="k57-3" class="q"><use href="#R" x="188"/></g><g id="k57-4" class="t"><use href="#R" x="240"/></g><g id="k57-5" class="b"><use href="#R" x="292"/></g><g id="k57-6" class="k"><use href="#R" x="344"/></g><g id="k57-7" class="b"><use href="#R" x="396"/></g><g id="k57-8" class="t"><use href="#R" x="448"/></g><g id="k57-9" class="q"><use href="#R" x="500"/></g><g id="k57-10" class="k"><use href="#R" x="552"/></g><g id="k57-11" class="b"><use href="#R" x="604"/></g></g>
<g id="row58" transform="translate(0 3026)"><g id="k58-1" class="k"><use href="#L" x="84"/></g><g id="k58-2" class="q"><use href="#L" x="136"/></g><g id="k58-3" class="t"><use href="#L" x="188"/></g><g id="k58-4" class="b"><use href="#L" x="240"/></g><g id="k58-5" class="k"><use href="#L" x="292"/></g><g id="k58-6" class="k"><use href="#L" x="344"/></g><g id="k58-7" class="k"><use href="#L" x="396"/></g><g id="k58-8" class="b"><use href="#L" x="448"/></g><g id="k58-9" class="t"><use href="#L" x="500"/></g><g id="k58-10" class="q"><use href="#L" x="552"/></g><g id="k58-11" class="k"><use href="#L" x="604"/></g></g>
<g id="row59" transform="translate(0 3078)"><g id="k59-1" class="q"><use href="#R" x="84"/></g><g id="k59-2" class="t"><use href="#R" x="136"/></g><g id="k59-3" class="b"><use href="#R" x="188"/></g><g id="k59-4" class="k"><use href="#R" x="240"/></g><g id="k59-5" class="k"><use href="#R" x="292"/></g><g id="k59-6" class="k"><use href="#R" x="344"/></g><g id="k59-7" class="k"><use href="#R" x="396"/></g><g id="k59-8" class="k"><use href="#R" x="448"/></g><g id="k59-9" class="b"><use href="#R" x="500"/></g><g id="k59-10" class="t"><use href="#R" x="552"/></g><g id="k59-11" class="q"><use href="#R" x="604"/></g></g>
<g id="row60" transform="translate(0 3130)"><g id="k60-1" class="t"><use href="#L" x="84"/></g><g id="k60-2" class="b"><use href="#L" x="136"/></g><g id="k60-3" class="k"><use href="#L" x="188"/></g><g id="k60-4" class="k"><use href="#L" x="240"/></g><g id="k60-5" class="k"><use href="#L" x="292"/></g><g id="k60-6" class="k"><use href="#L" x="344"/></g><g id="k60-7" class="k"><use href="#L" x="396"/></g><g id="k60-8" class="k"><use href="#L" x="448"/></g><g id="k60-9" class="k"><use href="#L" x="500"/></g><g id="k60-10" class="b"><use href="#L" x="552"/></g><g id="k60-11" class="t"><use href="#L" x="604"/></g></g>
<g id="row61" transform="translate(0 3182)"><g id="k61-1" class="b"><use href="#R" x="84"/></g><g id="k61-2" class="k"><use href="#R" x="136"/></g><g id="k61-3" class="k"><use href="#R" x="188"/></g><g id="k61-4" class="k"><use href="#R" x="240"/></g><g id="k61-5" class="k"><use href="#R" x="292"/></g><g id="k61-6" class="k"><use href="#R" x="344"/></g><g id="k61-7" class="k"><use href="#R" x="396"/></g><g id="k61-8" class="k"><use href="#R" x="448"/></g><g id="k61-9" class="k"><use href="#R" x="500"/></g><g id="k61-10" class="k"><use href="#R" x="552"/></g><g id="k61-11" class="b"><use href="#R" x="604"/></g></g>
<g id="row62" transform="translate(0 3234)"><g id="k62-1" class="k"><use href="#L" x="84"/></g><g id="k62-2" class="k"><use href="#L" x="136"/></g><g id="k62-3" class="k"><use href="#L" x="188"/></g><g id="k62-4" class="k"><use href="#L" x="240"/></g><g id="k62-5" class="k"><use href="#L" x="292"/></g><g id="k62-6" class="k"><use href="#L" x="344"/></g><g id="k62-7" class="k"><use href="#L" x="396"/></g><g id="k62-8" class="k"><use href="#L" x="448"/></g><g id="k62-9" class="k"><use href="#L" x="500"/></g><g id="k62-10" class="k"><use href="#L" x="552"/></g><g id="k62-11" class="k"><use href="#L" x="604"/></g></g>
<g id="row63" transform="translate(0 3286)"><g id="k63-1" class="k"><use href="#R" x="84"/></g><g id="k63-2" class="k"><use href="#R" x="136"/></g><g id="k63-3" class="k"><use href="#R" x="188"/></g><g id="k63-4" class="k"><use href="#R" x="240"/></g><g id="k63-5" class="k"><use href="#R" x="292"/></g><g id="k63-6" class="k"><use href="#R" x="344"/></g><g id="k63-7" class="k"><use href="#R" x="396"/></g><g id="k63-8" class="k"><use href="#R" x="448"/></g><g id="k63-9" class="k"><use href="#R" x="500"/></g><g id="k63-10" class="k"><use href="#R" x="552"/></g><g id="k63-11" class="k"><use href="#R" x="604"/></g></g>
<g id="row64" transform="translate(0 3338)"><g id="k64-1" class="k"><use href="#L" x="84"/></g><g id="k64-2" class="k"><use href="#L" x="136"/></g><g id="k64-3" class="k"><use href="#L" x="188"/></g><g id="k64-4" class="k"><use href="#L" x="240"/></g><g id="k64-5" class="k"><use href="#L" x="292"/></g><g id="k64-6" class="k"><use href="#L" x="344"/></g><g id="k64-7" class="k"><use href="#L" x="396"/></g><g id="k64-8" class="k"><use href="#L" x="448"/></g><g id="k64-9" class="k"><use href="#L" x="500"/></g><g id="k64-10" class="k"><use href="#L" x="552"/></g><g id="k64-11" class="k"><use href="#L" x="604"/></g></g>
</g>
<text id="watermark" class="wm" x="344" y="1705.5" textLength="155" lengthAdjust="spacingAndGlyphs">BRACELETBOOK.COM</text>
</svg>
